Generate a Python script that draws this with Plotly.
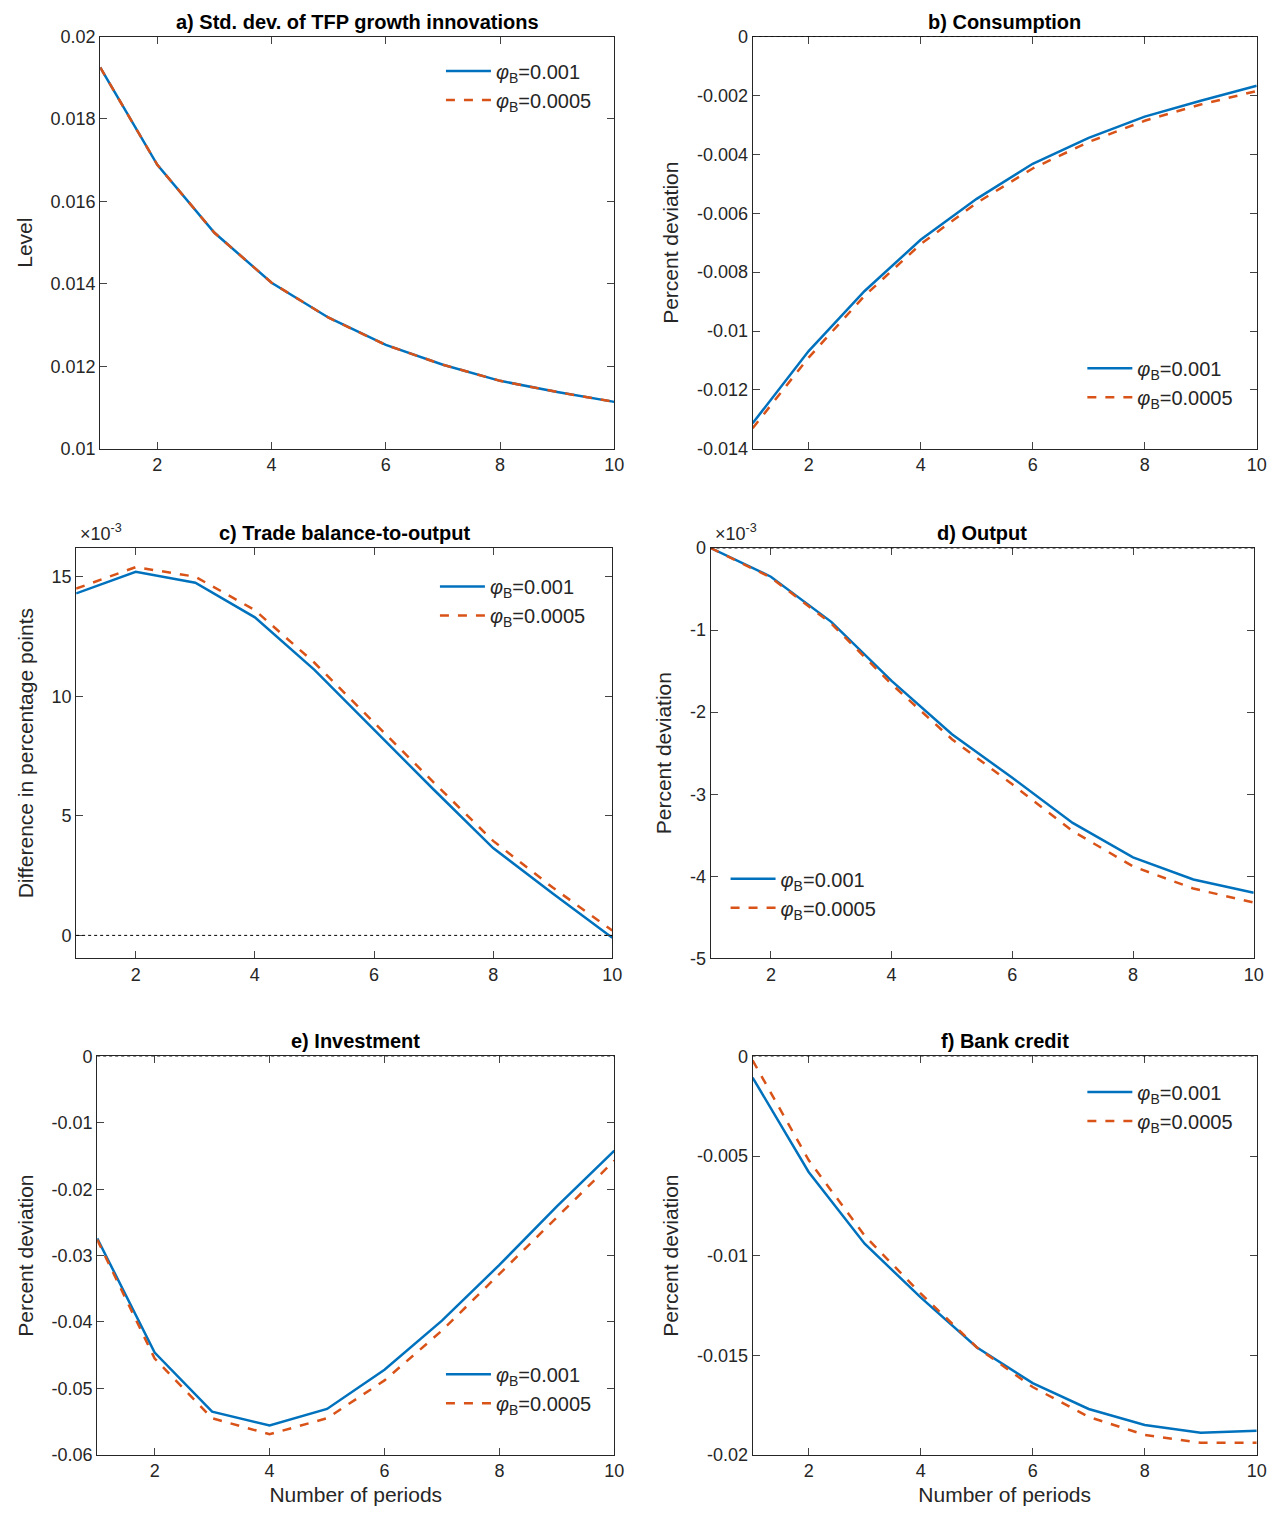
import plotly.graph_objects as go

periods = list(range(1, 11))
a_blue = [0.01925, 0.01689, 0.01524, 0.01403, 0.01318, 0.01252, 0.01204, 0.01165, 0.01138, 0.01114]
a_red = [0.01925, 0.01689, 0.01524, 0.01403, 0.01318, 0.01252, 0.01204, 0.01165, 0.01138, 0.01114]
b_blue = [-0.01313, -0.01068, -0.00864, -0.0069, -0.00551, -0.00432, -0.00344, -0.00272, -0.00218, -0.00167]
b_red = [-0.0133, -0.0109, -0.0088, -0.00705, -0.00565, -0.00448, -0.00358, -0.00286, -0.00231, -0.00185]
c_blue = [14.3, 15.2, 14.75, 13.3, 11.1, 8.6, 6.1, 3.65, 1.75, -0.1]
c_red = [14.5, 15.4, 15.0, 13.6, 11.4, 8.9, 6.4, 3.95, 2.0, 0.2]
d_blue = [0, -0.35, -0.9, -1.62, -2.27, -2.8, -3.35, -3.77, -4.04, -4.2]
d_red = [0, -0.36, -0.92, -1.66, -2.33, -2.88, -3.45, -3.88, -4.15, -4.32]
e_blue = [-0.0274, -0.0446, -0.0535, -0.0556, -0.0531, -0.0472, -0.0398, -0.0314, -0.0226, -0.0142]
e_red = [-0.0276, -0.0455, -0.0545, -0.0569, -0.0545, -0.0488, -0.0413, -0.0328, -0.0242, -0.0157]
f_blue = [-0.00106, -0.0058, -0.0094, -0.0121, -0.0146, -0.0164, -0.0177, -0.0185, -0.0189, -0.0188]
f_red = [-0.0002, -0.0052, -0.0090, -0.0119, -0.0146, -0.0166, -0.0181, -0.0190, -0.0194, -0.0194]

titles = ["a) Std. dev. of TFP growth innovations", "b) Consumption", "c) Trade balance-to-output",
          "d) Output", "e) Investment", "f) Bank credit"]
ylabels = ["Level", "Percent deviation", "Difference in percentage points",
           "Percent deviation", "Percent deviation", "Percent deviation"]
series = [(a_blue, a_red), (b_blue, b_red), (c_blue, c_red), (d_blue, d_red), (e_blue, e_red), (f_blue, f_red)]
names = ["<i>φ</i><sub>B</sub>=0.001", "<i>φ</i><sub>B</sub>=0.0005"]

W, H = 1277, 1524


def px(x):
    return (x - 8) / 0.99


def py(y):
    return (y - 18.5) / 0.986


boxes = [(100, 613, 37, 449), (751, 1254, 37, 449), (76, 611, 548, 958),
         (709, 1251, 548, 958), (97, 613, 1056, 1454), (751, 1254, 1056, 1454)]
yranges = [[0.01, 0.02], [-0.014, 0], [-0.96, 16.2], [-5, 0], [-0.06, 0], [-0.02, 0]]
ytickvals = [[0.01, 0.012, 0.014, 0.016, 0.018, 0.02],
             [-0.014, -0.012, -0.01, -0.008, -0.006, -0.004, -0.002, 0],
             [0, 5, 10, 15], [-5, -4, -3, -2, -1, 0],
             [-0.06, -0.05, -0.04, -0.03, -0.02, -0.01, 0],
             [-0.02, -0.015, -0.01, -0.005, 0]]
yticktext = [["0.01", "0.012", "0.014", "0.016", "0.018", "0.02"],
             ["-0.014", "-0.012", "-0.01", "-0.008", "-0.006", "-0.004", "-0.002", "0"],
             ["0", "5", "10", "15"], ["-5", "-4", "-3", "-2", "-1", "0"],
             ["-0.06", "-0.05", "-0.04", "-0.03", "-0.02", "-0.01", "0"],
             ["-0.02", "-0.015", "-0.01", "-0.005", "0"]]
legpos = [(440, 52), (1080, 349), (434, 567), (724, 859), (440, 1354), (1080, 1072)]

font = "Liberation Sans, Arial, sans-serif"
fig = go.Figure()
layout = dict(width=W, height=H, margin=dict(l=0, r=0, t=0, b=0), plot_bgcolor="white",
              paper_bgcolor="white", font=dict(family=font, size=18, color="#262626"), showlegend=True)
shapes, annotations = [], []
for i in range(6):
    k = "" if i == 0 else str(i + 1)
    x0, x1, y0, y1 = boxes[i]
    x0, x1, y0, y1 = px(x0), px(x1), py(y0), py(y1)
    leg = "legend" if i == 0 else "legend" + k
    for j, (vals, col, dash) in enumerate(zip(series[i], ["#0072BD", "#D95319"], ["solid", "dash"])):
        fig.add_trace(go.Scatter(x=periods, y=vals, mode="lines", name=names[j],
                                 line=dict(color=col, width=2.5, dash=dash),
                                 xaxis="x" + k, yaxis="y" + k, legend=leg))
    ax = dict(showline=True, linecolor="#262626", mirror="ticks", ticks="inside", ticklen=7,
              showgrid=False, zeroline=False, tickfont=dict(size=18))
    layout["xaxis" + k] = dict(ax, domain=[x0 / W, x1 / W], anchor="y" + k, range=[1, 10],
                               tickvals=[2, 4, 6, 8, 10],
                               title=dict(text="Number of periods" if i >= 4 else "", font=dict(size=21), standoff=6))
    layout["yaxis" + k] = dict(ax, domain=[1 - y1 / H, 1 - y0 / H], anchor="x" + k, range=yranges[i],
                               tickvals=ytickvals[i], ticktext=yticktext[i],
                               title=dict(text=ylabels[i], font=dict(size=21), standoff=12))
    lx, ly = legpos[i]
    layout[leg] = dict(x=px(lx) / W, y=1 - py(ly) / H, xanchor="left", yanchor="top",
                       bgcolor="rgba(255,255,255,0)", font=dict(size=20), itemwidth=45, tracegroupgap=0)
    annotations.append(dict(text="<b>" + titles[i] + "</b>", x=(x0 + x1) / 2 / W, y=1 - (y0 - 2) / H,
                            xref="paper", yref="paper", xanchor="center", yanchor="bottom",
                            showarrow=False, font=dict(size=20, color="black")))
    if i > 0:
        shapes.append(dict(type="line", xref="x" + k + " domain", yref="y" + k, x0=0, x1=1, y0=0, y1=0,
                           line=dict(color="black", width=1, dash="dot")))
    if i in (2, 3):
        annotations.append(dict(text="×10<sup>-3</sup>", x=(x0 + 2) / W, y=1 - (y0 - 2) / H,
                                xref="paper", yref="paper", xanchor="left", yanchor="bottom",
                                showarrow=False, font=dict(size=18, color="#262626")))
layout["shapes"] = shapes
layout["annotations"] = annotations
fig.update_layout(**layout)
fig.write_html("out.html")
